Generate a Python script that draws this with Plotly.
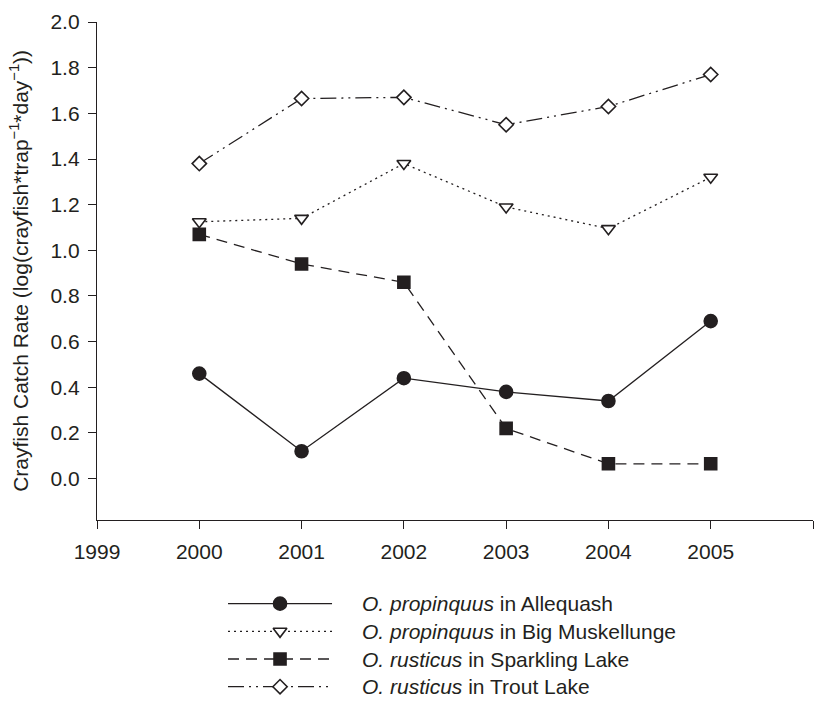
import plotly.graph_objects as go

# ---- data ----
years = [2000, 2001, 2002, 2003, 2004, 2005]
allequash = [0.46, 0.12, 0.44, 0.38, 0.34, 0.69]
big_muskellunge = [1.125, 1.14, 1.38, 1.19, 1.095, 1.32]
sparkling = [1.07, 0.94, 0.86, 0.22, 0.065, 0.065]
trout = [1.38, 1.665, 1.67, 1.55, 1.63, 1.77]

series_values = [allequash, big_muskellunge, sparkling, trout]
series_species = ["O. propinquus", "O. propinquus", "O. rusticus", "O. rusticus"]
series_lakes = ["Allequash", "Big Muskellunge", "Sparkling Lake", "Trout Lake"]

x_ticks = [1999, 2000, 2001, 2002, 2003, 2004, 2005, 2006]
y_ticks = [0.0, 0.2, 0.4, 0.6, 0.8, 1.0, 1.2, 1.4, 1.6, 1.8, 2.0]

# ---- styles ----
INK = "#231f20"
FONT = "Liberation Sans, Arial, Helvetica, sans-serif"
FS = 21
styles = [
    dict(dash="solid", symbol="circle", size=13, fill=INK),
    dict(dash="2px,4px", symbol="triangle-down", size=12, fill="white"),
    dict(dash="11px,7px", symbol="square", size=12, fill=INK),
    dict(dash="16px,5px,2px,5px,2px,5px", symbol="diamond", size=11, fill="white"),
]

fig = go.Figure()

for vals, st in zip(series_values, styles):
    fig.add_trace(go.Scatter(
        x=years, y=vals, mode="lines+markers",
        line=dict(color=INK, width=1.3, dash=st["dash"]),
        marker=dict(symbol=st["symbol"], size=st["size"], color=st["fill"],
                    line=dict(color=INK, width=1.6)),
        showlegend=False, cliponaxis=False, hoverinfo="x+y",
    ))

# ---- custom legend drawn on an auxiliary axis ----
for i, st in enumerate(styles):
    fig.add_trace(go.Scatter(
        x=[0, 1], y=[i, i], mode="lines", xaxis="x2", yaxis="y2",
        line=dict(color=INK, width=1.3, dash=st["dash"]),
        showlegend=False, hoverinfo="skip",
    ))
    fig.add_trace(go.Scatter(
        x=[0.5], y=[i], mode="markers", xaxis="x2", yaxis="y2",
        marker=dict(symbol=st["symbol"], size=st["size"], color=st["fill"],
                    line=dict(color=INK, width=1.6)),
        showlegend=False, hoverinfo="skip", cliponaxis=False,
    ))
    fig.add_annotation(
        x=1.27, y=i, xref="x2", yref="y2", xanchor="left", yanchor="middle",
        text=f"<i>{series_species[i]}</i> in {series_lakes[i]}",
        showarrow=False, font=dict(family=FONT, size=FS, color=INK),
    )

fig.update_layout(
    width=834, height=705,
    margin=dict(l=97, r=21, t=19, b=10),
    paper_bgcolor="white", plot_bgcolor="white",
    font=dict(family=FONT, size=FS, color=INK),
    xaxis=dict(
        domain=[0, 1], range=[1999, 2006], tickvals=x_ticks,
        showgrid=False, zeroline=False, showline=True, linecolor=INK, linewidth=1.3,
        ticks="outside", ticklen=8, tickwidth=1.3, tickcolor=INK,
        tickfont=dict(size=FS), ticklabelstandoff=5, anchor="y",
    ),
    yaxis=dict(
        domain=[0.2604, 1], range=[-0.18, 2.0], tickvals=y_ticks, tickformat=".1f",
        showgrid=False, zeroline=False, showline=True, linecolor=INK, linewidth=1.3,
        ticks="outside", ticklen=8, tickwidth=1.3, tickcolor=INK,
        tickfont=dict(size=FS), ticklabelstandoff=4, anchor="x",
        title=dict(text="Crayfish Catch Rate (log(crayfish*trap<sup>\u22121</sup>*day<sup>\u22121</sup>))",
                   font=dict(size=FS), standoff=16),
    ),
    xaxis2=dict(domain=[0, 1], range=[-1.26, 5.625], visible=False, anchor="y2"),
    yaxis2=dict(domain=[0, 0.2604], range=[3.30, -3.03], visible=False, anchor="x2"),
)

fig.write_html("out.html")
